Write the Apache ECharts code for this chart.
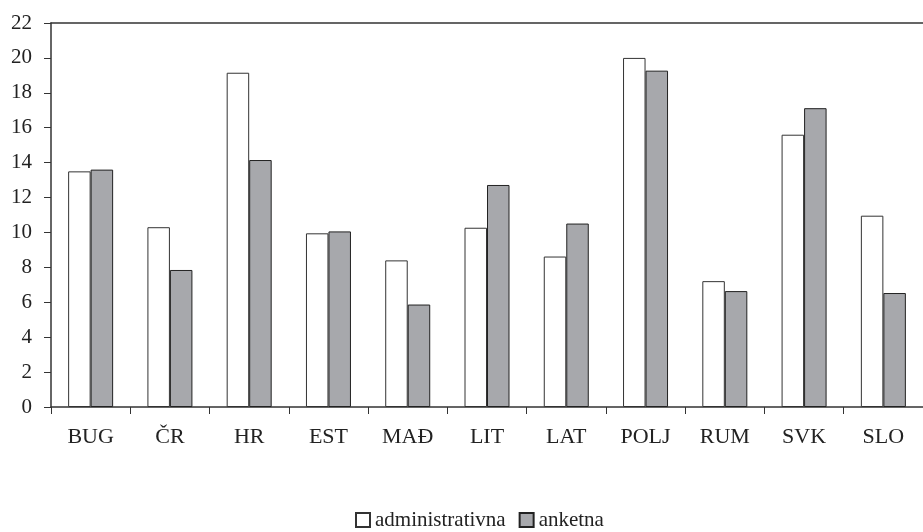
<!DOCTYPE html>
<html>
<head>
<meta charset="utf-8">
<script src="https://cdn.jsdelivr.net/npm/echarts@6/dist/echarts.min.js"></script>
<style>html,body{margin:0;padding:0;background:#fff;}#c{width:923px;height:532px;}</style>
</head>
<body>
<div id="c"></div>
<script>
const categories = ['BUG', 'ČR', 'HR', 'EST', 'MAĐ', 'LIT', 'LAT', 'POLJ', 'RUM', 'SVK', 'SLO'];
const administrativna = [13.5, 10.3, 19.15, 9.95, 8.4, 10.27, 8.62, 20.0, 7.21, 15.6, 10.96];
const anketna = [13.6, 7.85, 14.15, 10.06, 5.87, 12.72, 10.51, 19.27, 6.64, 17.12, 6.53];
const yTicks = [0, 2, 4, 6, 8, 10, 12, 14, 16, 18, 20, 22];
const seriesNames = ['administrativna', 'anketna'];

const font = 'Liberation Serif';
const chart = echarts.init(document.getElementById('c'), null, {renderer: 'canvas'});
chart.setOption({
  animation: false,
  backgroundColor: '#ffffff',
  textStyle: {fontFamily: font},
  grid: {left: 51, right: 0, top: 23, bottom: 125, containLabel: false},
  legend: {
    data: seriesNames,
    left: 355, top: 508, padding: 0,
    itemWidth: 14, itemHeight: 14, itemGap: 13,
    textStyle: {fontFamily: font, fontSize: 21, color: '#222', lineHeight: 24},
    icon: 'rect'
  },
  xAxis: [{
    type: 'category',
    data: categories,
    axisLine: {lineStyle: {color: '#333', width: 1.5}},
    axisTick: {show: true, length: 7, lineStyle: {color: '#333'}},
    axisLabel: {fontFamily: font, fontSize: 22, color: '#222', margin: 19},
    splitLine: {show: false}
  }, {
    type: 'category',
    data: categories,
    position: 'top',
    axisLine: {lineStyle: {color: '#333', width: 1.5}},
    axisTick: {show: false},
    axisLabel: {show: false}
  }],
  yAxis: {
    type: 'value',
    min: yTicks[0], max: yTicks[yTicks.length - 1], interval: 2,
    axisLine: {show: true, lineStyle: {color: '#333', width: 1.5}},
    axisTick: {show: true, length: 7, lineStyle: {color: '#333'}},
    axisLabel: {fontFamily: font, fontSize: 21, color: '#222', margin: 19},
    splitLine: {show: false}
  },
  series: [{
    name: seriesNames[0],
    type: 'bar',
    data: administrativna,
    barWidth: 22.5,
    barGap: '0%',
    itemStyle: {color: '#ffffff', borderColor: '#333', borderWidth: 1}
  }, {
    name: seriesNames[1],
    type: 'bar',
    data: anketna,
    barWidth: 22.5,
    barGap: '0%',
    itemStyle: {color: '#a7a8ac', borderColor: '#222', borderWidth: 1}
  }]
});
</script>
</body>
</html>
